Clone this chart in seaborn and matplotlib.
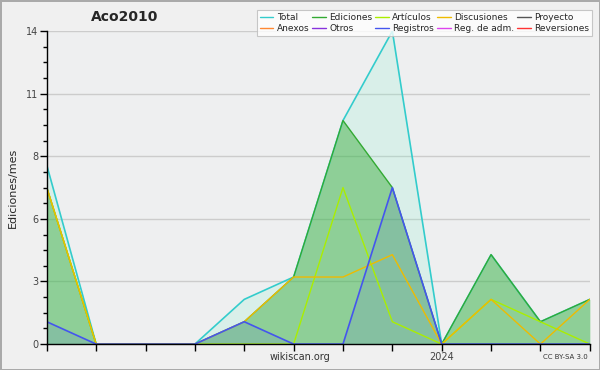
import matplotlib
matplotlib.use("Agg")
import matplotlib.pyplot as plt
from matplotlib.ticker import MultipleLocator, FixedLocator
import seaborn as sns
import pandas as pd

# months May 2023 .. Apr 2024
months = list(range(12))
total      = [8, 0, 0, 0, 2, 3, 10, 14, 0, 4, 1, 2]
ediciones  = [7, 0, 0, 0, 1, 3, 10, 7, 0, 4, 1, 2]
articulos  = [7, 0, 0, 0, 0, 0, 7, 1, 0, 2, 1, 0]
discusion  = [7, 0, 0, 0, 1, 3, 3, 4, 0, 2, 0, 2]
registros  = [1, 0, 0, 0, 1, 0, 0, 7, 0, 0, 0, 0]

legend_names = ["Total", "Ediciones", "Artículos", "Discusiones", "Proyecto",
                "Anexos", "Otros", "Registros", "Reg. de adm.", "Reversiones"]
legend_colors = ["#33cccc", "#33aa33", "#aaee00", "#eebb00", "#555555",
                 "#ff8833", "#8833dd", "#4455ee", "#dd44ee", "#ff3333"]

df = pd.DataFrame({"mes": months, "Total": total, "Ediciones": ediciones,
                   "Artículos": articulos, "Discusiones": discusion,
                   "Registros": registros})

sns.set_style("white")
fig = plt.figure(figsize=(6, 3.7), dpi=100, facecolor="#f0f0f0",
                 edgecolor="#aaaaaa", linewidth=2)
ax = fig.add_axes([0.078, 0.07, 0.905, 0.846])
ax.set_facecolor("#eeeff0")

# areas
ax.fill_between(df["mes"], df["Total"], color="#85f4cd", alpha=0.2, lw=0)
ax.fill_between(df["mes"], df["Ediciones"], color="#33aa33", alpha=0.45, lw=0)
ax.fill_between(df["mes"], df["Registros"], color="#4455ee", alpha=0.12, lw=0)

sns.lineplot(data=df, x="mes", y="Total", color="#33cccc", lw=1.2, ax=ax)
sns.lineplot(data=df, x="mes", y="Ediciones", color="#33aa33", lw=1, ax=ax)
sns.lineplot(data=df, x="mes", y="Artículos", color="#aaee00", lw=1, ax=ax)
sns.lineplot(data=df, x="mes", y="Discusiones", color="#eebb00", lw=1, ax=ax)
sns.lineplot(data=df, x="mes", y="Registros", color="#4455ee", lw=1.2, ax=ax)

ax.set_xlim(0, 11)
ax.set_ylim(0, 14)
ax.yaxis.set_major_locator(FixedLocator([0, 2.8, 5.6, 8.4, 11.2, 14]))
ax.set_yticklabels(["0", "3", "6", "8", "11", "14"])
ax.yaxis.set_minor_locator(MultipleLocator(0.7))
ax.set_xticks(months)
ax.set_xticklabels(["" if m != 8 else "2024" for m in months])
ax.tick_params(axis="both", which="major", length=5, width=1, color="black",
               labelsize=7, labelcolor="#444444", pad=1, left=True, bottom=True)
ax.tick_params(axis="y", which="minor", length=3, width=1, color="black", left=True)
ax.grid(axis="y", color="#cccccc", lw=1)
ax.set_axisbelow(True)
for s in ["top", "right"]:
    ax.spines[s].set_visible(False)
for s in ["left", "bottom"]:
    ax.spines[s].set_color("black")
    ax.spines[s].set_linewidth(1)
ax.set_xlabel("")
ax.set_ylabel("Ediciones/mes", fontsize=8, labelpad=6)

fig.text(0.208, 0.955, "Aco2010", ha="center", va="center", fontsize=10,
         fontweight="bold")
fig.text(0.5, 0.035, "wikiscan.org", ha="center", va="center", fontsize=7,
         color="#333333")
fig.text(0.98, 0.035, "CC BY-SA 3.0", ha="right", va="center", fontsize=5,
         color="#333333")

# legend filled row by row: reorder for matplotlib's column-major layout
order = [0, 5, 1, 6, 2, 7, 3, 8, 4, 9]
handles = [plt.Line2D([], [], color=legend_colors[i], lw=1) for i in order]
labels = [legend_names[i] for i in order]
leg = fig.legend(handles, labels, ncol=5, loc="upper right",
                 bbox_to_anchor=(0.994, 0.985), fontsize=6.5, frameon=True,
                 handlelength=1.5, handletextpad=0.35, columnspacing=0.35,
                 labelspacing=0.2, borderpad=0.35, fancybox=False)
leg.get_frame().set_facecolor("white")
leg.get_frame().set_edgecolor("#bbbbbb")
leg.get_frame().set_linewidth(0.8)

fig.savefig("out.png", dpi=100, facecolor=fig.get_facecolor(),
            edgecolor=fig.get_edgecolor())
